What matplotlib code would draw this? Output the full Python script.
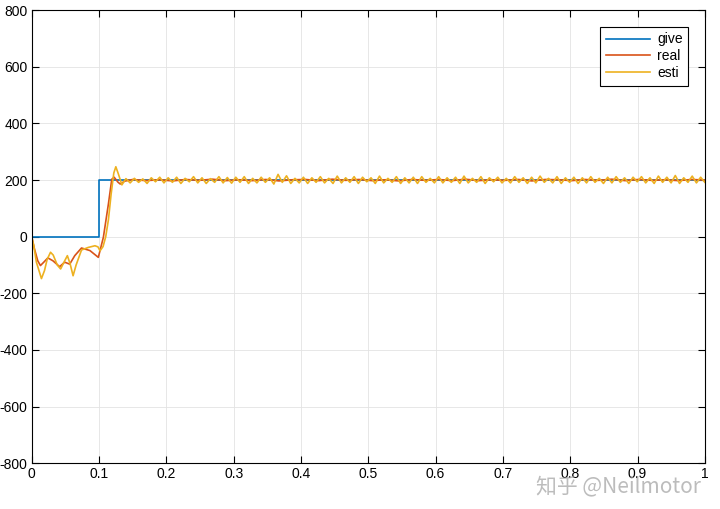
import numpy as np
import matplotlib
matplotlib.use("Agg")
import matplotlib.pyplot as plt
from matplotlib.ticker import FormatStrFormatter

plt.rcParams['font.family'] = ['Liberation Sans', 'DejaVu Sans']
plt.rcParams['axes.unicode_minus'] = False

# reference step
give_t = [0.0, 0.1, 0.1, 1.0]
give_v = [0, 0, 200, 200]

# measured response: start-up transient
real_t = [0.0, 0.004, 0.009, 0.013, 0.018, 0.024, 0.0315, 0.0415, 0.049, 0.0565, 0.064,
          0.074, 0.0865, 0.099, 0.1065, 0.114, 0.119, 0.1225, 0.128, 0.1315, 0.138]
real_v = [0, -42, -85, -102, -90, -75, -85, -106, -90, -97, -67,
          -40, -49, -73, -2, 116, 203, 210, 193, 186, 196]
# measured response: small ripple after settling
real_rip = [2, -2, 1, -3, 2, -1, 3, -2, 1, -2, 2, -3, 1, 2, -2, 3, -1, 2, -2, 1,
            -3, 2, -1, 2, -2, 3, -2, 1, -1, 2, -3, 2, 1, -2, 2, -1, 3, -2, 2, -1,
            1, -2, 2, 0]

# estimated value: start-up transient
esti_t = [0.0, 0.003, 0.007, 0.0145, 0.019, 0.023, 0.028, 0.032, 0.038, 0.043, 0.048, 0.053,
          0.057, 0.0615, 0.066, 0.074, 0.084, 0.094, 0.0985, 0.1015, 0.106, 0.11, 0.114,
          0.118, 0.122, 0.125, 0.129, 0.134]
esti_v = [0, -30, -90, -148, -120, -80, -55, -65, -100, -114, -90, -67,
          -95, -138, -100, -47, -38, -32, -36, -50, -35, 0, 60, 150, 225, 247, 220, 183]
# estimated value: ripple extrema around 200 after 0.14 s
esti_rip = [5, -10, 6, -8, 4, -12, 8, -6, 10, -10,
            8, -8, 10, -12, 6, -6, 12, -10, 8, -12, 5, -8, 12, -10, 9, -11,
            10, -8, 12, -12, 6, -10, 10, -8, 8, -14, 20, -8, 15, -12, 6, -10,
            10, -12, 8, -8, 12, -10, 6, -12, 14, -10, 8, -8, 12, -12, 10, -6,
            8, -12, 14, -10, 6, -8, 12, -12, 8, -10, 10, -12, 12, -8, 6, -10,
            12, -10, 8, -8, 10, -12, 14, -10, 6, -8, 12, -12, 8, -6, 10, -10,
            6, -10, 12, -8, 8, -12, 10, -10, 14, -8, 6, -10, 12, -12, 8, -8,
            10, -12, 8, -10, 12, -8, 6, -12, 10, -10, 12, -8, 8, -12, 10, -6,
            12, -10, 8, -12, 14, -8, 10, -10, 16, -12, 8, -8, 14, -10, 10, -8]

rt = np.concatenate([real_t, np.linspace(0.15, 1.0, len(real_rip))])
rv = np.concatenate([real_v, 200 + np.array(real_rip)])
et = np.concatenate([esti_t, np.linspace(0.14, 1.0, len(esti_rip))])
ev = np.concatenate([esti_v, 200 + np.array(esti_rip)])

fig = plt.figure(figsize=(7.2, 5.09), dpi=100)
ax = fig.add_axes([0.044, 0.090, 0.935, 0.890])

ax.plot(give_t, give_v, color='#0072BD', lw=1.2, label='give')
ax.plot(rt, rv, color='#D95319', lw=1.2, label='real')
ax.plot(et, ev, color='#EDB120', lw=1.2, label='esti')

ax.set_xlim(0, 1)
ax.set_ylim(-800, 800)
ax.set_xticks(np.arange(0, 1.01, 0.1))
ax.set_yticks(np.arange(-800, 801, 200))
ax.xaxis.set_major_formatter(FormatStrFormatter('%g'))
ax.grid(True, color='#e3e3e3', lw=0.6)
ax.set_axisbelow(True)
ax.tick_params(direction='in', top=True, right=True, labelsize=10, length=5, width=0.8, pad=3)
for s in ax.spines.values():
    s.set_linewidth(0.8)

leg = ax.legend(loc='upper right', fancybox=False, edgecolor='black', framealpha=1,
                fontsize=10, borderaxespad=1.2, handlelength=3.2, labelspacing=0.2,
                borderpad=0.4, handletextpad=0.5)
leg.get_frame().set_linewidth(0.8)

fig.text(0.745, 0.045, '知乎 @Neilmotor', fontsize=15, color='#a0a0a0', alpha=0.7,
         family=['Noto Sans CJK SC', 'DejaVu Sans'], va='center')

fig.savefig('out.png', dpi=100)
